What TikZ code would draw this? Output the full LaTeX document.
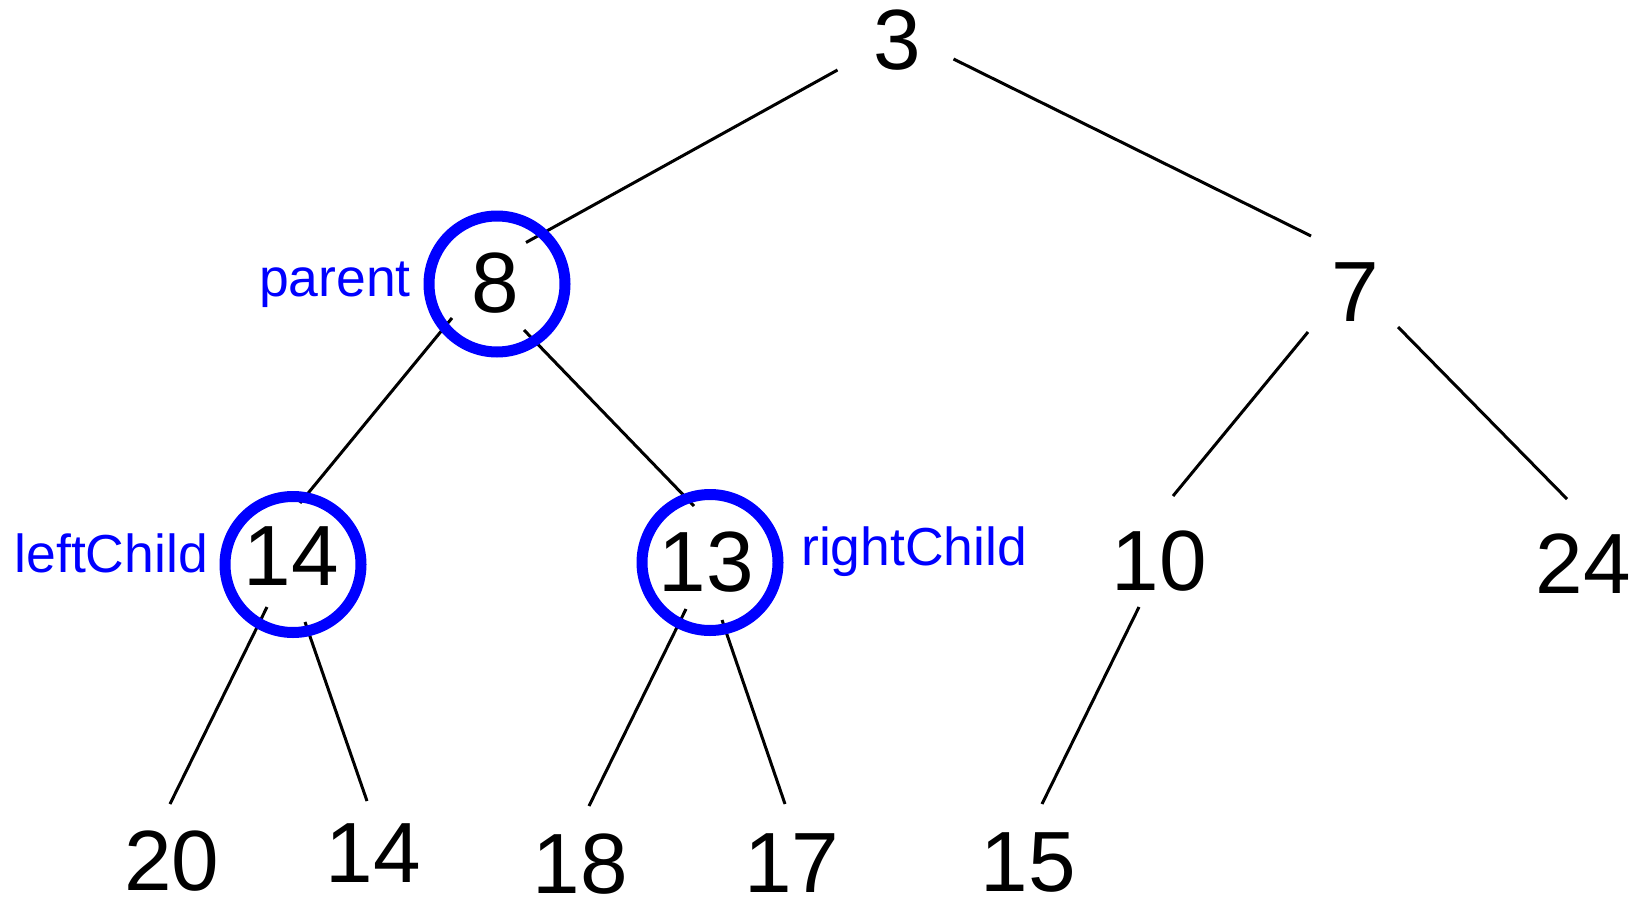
\documentclass[tikz,border=0pt]{standalone}
\usepackage{fontspec}
\setmainfont{Liberation Sans}
\definecolor{ringblue}{RGB}{0,0,255}
\begin{document}
\begin{tikzpicture}[x=1pt,y=-1pt,
  key/.style={inner sep=0pt, font=\fontsize{85.5}{100}\selectfont},
  tag/.style={inner sep=0pt, text=ringblue, font=\fontsize{53.5}{64}\selectfont},
  edge/.style={line width=3pt, black},
  ring/.style={draw=ringblue, line width=11pt, circle, minimum size=136pt, inner sep=0pt}]
\useasboundingbox (0,0) rectangle (1635,899);

% keys
\node[key] (n3)  at (897,40)    {3};
\node[key] (n8)  at (495,283)   {8};
\node[key] (n7)  at (1355,292.5){7};
\node[key] (n14) at (291.5,556) {14};
\node[key] (n13) at (706.5,562.5){13};
\node[key] (n10) at (1159.5,561){10};
\node[key] (n24) at (1583,564)  {24};
\node[key] (n20) at (172,861)   {20};
\node[key] (n14b) at (373.5,853.5){14};
\node[key] (n18) at (580.5,864) {18};
\node[key] (n17) at (792,863.5) {17};
\node[key] (n15) at (1028.5,862){15};

% connector end points
\coordinate (a38) at (837.5,70);   \coordinate (b38) at (526,242.5);
\coordinate (a37) at (953.5,59);   \coordinate (b37) at (1311,236);
\coordinate (a814) at (452,318);   \coordinate (b814) at (300,503);
\coordinate (a813) at (524,330);   \coordinate (b813) at (694,506);
\coordinate (a710) at (1308,332);  \coordinate (b710) at (1173,496);
\coordinate (a724) at (1398,327);  \coordinate (b724) at (1567,499);
\coordinate (a1420) at (267,607);  \coordinate (b1420) at (170,804);
\coordinate (a1414) at (305,622);  \coordinate (b1414) at (367,801);
\coordinate (a1318) at (686,609);  \coordinate (b1318) at (589,806);
\coordinate (a1317) at (722,620);  \coordinate (b1317) at (785,804);
\coordinate (a1015) at (1139,607); \coordinate (b1015) at (1042,804);

\draw[edge] (a38) -- (b38);
\draw[edge] (a37) -- (b37);
\draw[edge] (a814) -- (b814);
\draw[edge] (a813) -- (b813);
\draw[edge] (a710) -- (b710);
\draw[edge] (a724) -- (b724);
\draw[edge] (a1420) -- (b1420);
\draw[edge] (a1414) -- (b1414);
\draw[edge] (a1318) -- (b1318);
\draw[edge] (a1317) -- (b1317);
\draw[edge] (a1015) -- (b1015);

% highlighted nodes
\node[ring] (r8)  at (497,284)   {};
\node[ring] (r14) at (293,564.5) {};
\node[ring] (r13) at (710,562.5) {};

% labels
\node[tag, anchor=base east] (lp) at (411,296) {parent};
\node[tag, anchor=base east] (ll) at (208,572) {leftChild};
\node[tag, anchor=base west] (lr) at (801,565) {rightChild};
\end{tikzpicture}
\end{document}
